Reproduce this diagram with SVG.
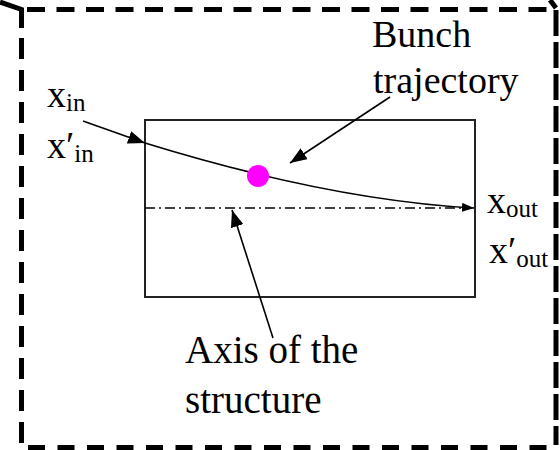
<svg xmlns="http://www.w3.org/2000/svg" width="560" height="450" viewBox="0 0 560 450">
<style>
.t{font-family:"Liberation Serif","Times New Roman",serif;font-size:38px;fill:#000}
.s{font-size:25px}
.b{fill:none;stroke:#000;stroke-width:5}
.ln{fill:none;stroke:#000;stroke-width:1.6}
</style>
<defs>
<marker id="ah" markerUnits="userSpaceOnUse" markerWidth="18" markerHeight="13" refX="17" refY="6.5" orient="auto">
<path d="M0,0 L17,6.5 L0,13 z" fill="#000"/>
</marker>
<marker id="ahs" markerUnits="userSpaceOnUse" markerWidth="13" markerHeight="9" refX="12" refY="4.5" orient="auto">
<path d="M0,0 L12,4.5 L0,9 z" fill="#000"/>
</marker>
</defs>
<rect width="560" height="450" fill="#fff"/>
<g id="border">
<polyline class="b" points="0,2 21.5,9.5 21.5,28"/>
<line class="b" x1="27" y1="9.5" x2="553" y2="9.5" stroke-dasharray="18 11.5"/>
<line class="b" x1="21.5" y1="38" x2="21.5" y2="443" stroke-dasharray="21 11"/>
<polyline class="b" points="550,0 556,8"/>
<line class="b" x1="556" y1="10" x2="556" y2="445" stroke-dasharray="26 6"/>
<line class="b" x1="28" y1="447.5" x2="556" y2="447.5" stroke-dasharray="17 12.5"/>
</g>
<g id="structure">
<rect x="145" y="120" width="330" height="177" fill="none" stroke="#222" stroke-width="2"/>
</g>
<g id="axis">
<line x1="145" y1="208" x2="472" y2="208" stroke="#000" stroke-width="1.5" stroke-dasharray="10 4 2 4"/>
</g>
<g id="connectors">
<line class="ln" x1="83" y1="121" x2="145" y2="143" marker-end="url(#ah)"/>
<path class="ln" d="M145,143 Q330,200 474,208" marker-end="url(#ahs)"/>
<line class="ln" x1="390" y1="97" x2="290" y2="163" marker-end="url(#ah)"/>
<line class="ln" x1="273" y1="338" x2="232" y2="210" marker-end="url(#ah)"/>
</g>
<g id="bunch">
<circle cx="258" cy="176" r="11" fill="#ff00ff"/>
</g>
<g id="label-bunch">
<text class="t" x="372" y="47">Bunch</text>
<text class="t" x="373" y="93">trajectory</text>
</g>
<g id="label-axis">
<text class="t" style="font-size:39px" x="185" y="363">Axis of the</text>
<text class="t" style="font-size:39px" x="185" y="413">structure</text>
</g>
<g id="label-in">
<text class="t" x="47" y="107">x<tspan class="s" dy="4">in</tspan></text>
<text class="t" x="47" y="158">x′<tspan class="s" dy="4">in</tspan></text>
</g>
<g id="label-out">
<text class="t" x="487" y="213">x<tspan class="s" dy="4">out</tspan></text>
<text class="t" x="489" y="263">x′<tspan class="s" dy="4">out</tspan></text>
</g>
</svg>
